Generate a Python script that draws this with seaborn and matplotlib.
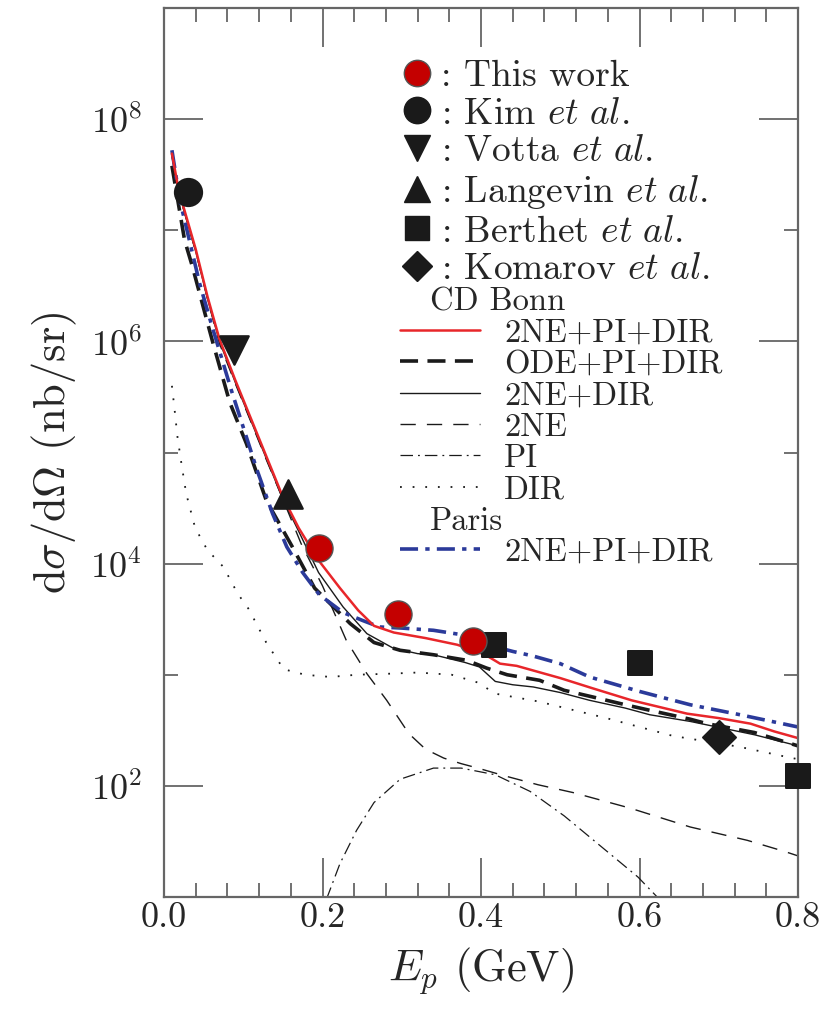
import numpy as np
import matplotlib
matplotlib.use("Agg")
import matplotlib.pyplot as plt
import seaborn as sns
from matplotlib.lines import Line2D
from matplotlib.ticker import FixedLocator, MultipleLocator, NullFormatter, LogFormatterSciNotation

# ---- data (log10 of dsigma/dOmega in nb/sr) ----
red_x = [0.01, 0.017, 0.025, 0.04, 0.055, 0.07, 0.09, 0.11, 0.13, 0.15, 0.17, 0.195, 0.222, 0.245,
         0.265, 0.29, 0.33, 0.37, 0.395, 0.41, 0.424, 0.445, 0.47, 0.50, 0.54, 0.59, 0.66, 0.70,
         0.74, 0.77, 0.80]
red_log = [7.69, 7.42, 7.20, 6.83, 6.40, 6.02, 5.65, 5.30, 4.95, 4.60, 4.32, 4.03, 3.78, 3.58,
           3.44, 3.38, 3.33, 3.27, 3.21, 3.16, 3.10, 3.08, 3.03, 2.97, 2.88, 2.77, 2.65, 2.61,
           2.56, 2.49, 2.43]

ode_x = [0.01, 0.026, 0.036, 0.054, 0.062, 0.083, 0.104, 0.129, 0.162, 0.19, 0.235, 0.265, 0.298,
         0.34, 0.382, 0.407, 0.433, 0.474, 0.505, 0.541, 0.582, 0.613, 0.664, 0.685, 0.745, 0.80]
ode_log = [7.58, 6.91, 6.67, 6.19, 5.98, 5.45, 5.08, 4.57, 4.15, 3.78, 3.46, 3.29, 3.22,
           3.18, 3.13, 3.06, 3.00, 2.95, 2.86, 2.80, 2.73, 2.68, 2.60, 2.56, 2.48, 2.36]

nedir_x = [0.01, 0.017, 0.025, 0.04, 0.055, 0.07, 0.09, 0.11, 0.13, 0.15, 0.17, 0.195, 0.226, 0.256,
           0.289, 0.32, 0.34, 0.38, 0.398, 0.418, 0.44, 0.466, 0.50, 0.537, 0.582, 0.613, 0.664,
           0.745, 0.80]
nedir_log = [7.68, 7.40, 7.18, 6.81, 6.38, 6.00, 5.63, 5.28, 4.93, 4.58, 4.29, 3.92, 3.61, 3.37,
             3.24, 3.19, 3.18, 3.11, 3.07, 2.94, 2.91, 2.89, 2.84, 2.77, 2.70, 2.64, 2.58,
             2.46, 2.36]

ne_x = [0.01, 0.017, 0.025, 0.04, 0.055, 0.07, 0.09, 0.11, 0.13, 0.15, 0.173, 0.20, 0.23, 0.256,
        0.281, 0.309, 0.33, 0.353, 0.375, 0.396, 0.43, 0.472, 0.516, 0.588, 0.664, 0.736, 0.783, 0.80]
ne_log = [7.67, 7.40, 7.18, 6.81, 6.38, 5.98, 5.62, 5.27, 4.92, 4.58, 4.18, 3.80, 3.31, 3.01,
          2.77, 2.47, 2.33, 2.25, 2.20, 2.16, 2.09, 2.01, 1.94, 1.80, 1.63, 1.51, 1.41, 1.37]

pi_x = [0.205, 0.222, 0.243, 0.265, 0.298, 0.34, 0.375, 0.418, 0.462, 0.505, 0.554, 0.598, 0.625]
pi_log = [0.98, 1.30, 1.60, 1.85, 2.06, 2.16, 2.16, 2.10, 1.95, 1.73, 1.44, 1.18, 0.98]

dir_x = [0.01, 0.013, 0.017, 0.022, 0.028, 0.039, 0.047, 0.055, 0.075, 0.093, 0.107, 0.129, 0.151,
         0.178, 0.21, 0.243, 0.287, 0.32, 0.363, 0.396, 0.418, 0.472, 0.558, 0.642, 0.727, 0.786, 0.80]
dir_log = [5.60, 5.41, 5.14, 4.90, 4.63, 4.33, 4.22, 4.12, 3.97, 3.73, 3.59, 3.29, 3.05,
           3.00, 2.98, 3.00, 3.01, 3.02, 3.00, 2.93, 2.83, 2.76, 2.61, 2.45, 2.35, 2.26, 2.24]

paris_x = [0.01, 0.02, 0.045, 0.06, 0.085, 0.117, 0.137, 0.155, 0.175, 0.196, 0.226, 0.25, 0.272,
           0.30, 0.34, 0.385, 0.424, 0.44, 0.465, 0.50, 0.537, 0.60, 0.664, 0.727, 0.80]
paris_log = [7.72, 7.27, 6.52, 6.15, 5.56, 4.85, 4.45, 4.15, 3.92, 3.72, 3.56, 3.49, 3.43,
             3.42, 3.40, 3.35, 3.24, 3.21, 3.17, 3.10, 2.98, 2.85, 2.73, 2.64, 2.53]

# experimental points
this_x = [0.195, 0.295, 0.39]
this_y = [1.38e4, 3.5e3, 2.0e3]
kim_x, kim_y = [0.030], [2.2e7]
votta_x, votta_y = [0.088], [8.3e5]
lang_x, lang_y = [0.156], [4.2e4]
berthet_x = [0.416, 0.601, 0.80]
berthet_y = [1.84e3, 1.27e3, 1.22e2]
komarov_x, komarov_y = [0.70], [2.74e2]

# ---- style ----
sns.set_theme(style="white")
plt.rcParams['font.family'] = ['cmr10', 'DejaVu Serif']
plt.rcParams['mathtext.fontset'] = 'cm'
plt.rcParams['axes.formatter.use_mathtext'] = True

RED = '#e8262a'
BLUE = '#2b3a9a'
BLK = '#1a1a1a'

st_red = dict(color=RED, lw=1.8, linestyle='-')
st_ode = dict(color=BLK, lw=2.6, linestyle=(0, (5.0, 2.6)))
st_nedir = dict(color=BLK, lw=1.0, linestyle='-')
st_ne = dict(color=BLK, lw=1.0, linestyle=(0, (11, 8)))
st_pi = dict(color=BLK, lw=0.9, linestyle=(0, (10, 4, 1.5, 4)))
st_dir = dict(color=BLK, lw=1.3, linestyle=(0, (1, 6)))
st_paris = dict(color=BLUE, lw=2.6, linestyle=(0, (5.0, 2.0, 1.2, 2.0)))

fig = plt.figure(figsize=(8.28, 10.27), dpi=100)
ax = fig.add_axes([164 / 828, 130 / 1027, 634 / 828, 889 / 1027])

curves = [(dir_x, dir_log, st_dir), (pi_x, pi_log, st_pi), (ne_x, ne_log, st_ne),
          (nedir_x, nedir_log, st_nedir), (ode_x, ode_log, st_ode),
          (paris_x, paris_log, st_paris), (red_x, red_log, st_red)]
for cx, cl, st in curves:
    sns.lineplot(x=cx, y=10.0 ** np.array(cl), ax=ax, estimator=None, sort=False, **st)

ms = 380
sns.scatterplot(x=kim_x, y=kim_y, ax=ax, marker='o', s=ms, color=BLK, edgecolor=BLK, zorder=6, clip_on=False)
sns.scatterplot(x=votta_x, y=votta_y, ax=ax, marker='v', s=ms * 1.1, color=BLK, edgecolor=BLK, zorder=6)
sns.scatterplot(x=lang_x, y=lang_y, ax=ax, marker='^', s=ms * 1.1, color=BLK, edgecolor=BLK, zorder=6)
sns.scatterplot(x=berthet_x, y=berthet_y, ax=ax, marker='s', s=ms * 0.85, color=BLK, edgecolor=BLK,
                zorder=6, clip_on=False)
sns.scatterplot(x=komarov_x, y=komarov_y, ax=ax, marker='D', s=ms * 0.75, color=BLK, edgecolor=BLK, zorder=6)
sns.scatterplot(x=this_x, y=this_y, ax=ax, marker='o', s=ms, color='#c40000', edgecolor='#555555',
                linewidth=1.0, zorder=7)

ax.set_yscale('log')
ax.set_xlim(0, 0.8)
ax.set_ylim(1e1, 1e9)

ax.xaxis.set_major_locator(MultipleLocator(0.2))
ax.xaxis.set_minor_locator(MultipleLocator(0.04))
ax.xaxis.set_major_formatter(plt.FormatStrFormatter('%.1f'))
ax.yaxis.set_major_locator(FixedLocator([1e2, 1e4, 1e6, 1e8]))
ax.yaxis.set_minor_locator(FixedLocator([1e1, 1e3, 1e5, 1e7, 1e9]))
ax.yaxis.set_major_formatter(LogFormatterSciNotation())
ax.yaxis.set_minor_formatter(NullFormatter())

ax.tick_params(which='both', direction='in', top=True, right=True, bottom=True, left=True,
               color='#666666', width=1.3)
ax.tick_params(which='major', length=28, labelsize=26)
ax.tick_params(which='minor', length=10)
ax.tick_params(axis='x', which='major', pad=4)
ax.tick_params(axis='y', which='major', pad=16)
for sp in ax.spines.values():
    sp.set_color('#666666')
    sp.set_linewidth(1.6)

ax.set_xlabel(r'$E_p$ (GeV)', fontsize=32, labelpad=8)
ax.set_ylabel(r'd$\sigma$/d$\Omega$ (nb/sr)', fontsize=32, labelpad=8)

# ---- legends ----
mk = dict(ls='none', ms=19)
h_marks = [Line2D([], [], marker='o', mfc='#c40000', mec='#555555', mew=1.0, **mk),
           Line2D([], [], marker='o', color=BLK, **mk),
           Line2D([], [], marker='v', color=BLK, **mk),
           Line2D([], [], marker='^', color=BLK, **mk),
           Line2D([], [], marker='s', color=BLK, ls='none', ms=17),
           Line2D([], [], marker='D', color=BLK, ls='none', ms=15)]
l_marks = [': This work', r': Kim $\mathit{et\ al.}$', r': Votta $\mathit{et\ al.}$',
           r': Langevin $\mathit{et\ al.}$', r': Berthet $\mathit{et\ al.}$',
           r': Komarov $\mathit{et\ al.}$']
leg1 = ax.legend(h_marks, l_marks, loc='upper left', bbox_to_anchor=(0.372, 0.942), frameon=False,
                 fontsize=27, handlelength=0.9, handletextpad=0.2, labelspacing=0.12,
                 borderpad=0, borderaxespad=0)
ax.add_artist(leg1)

blank = Line2D([], [], color='none')
h_lines = [blank, Line2D([], [], **st_red), Line2D([], [], **st_ode), Line2D([], [], **st_nedir),
           Line2D([], [], **st_ne), Line2D([], [], **st_pi), Line2D([], [], **st_dir),
           blank, Line2D([], [], **st_paris)]
l_lines = [' ', '2NE+PI+DIR', 'ODE+PI+DIR', '2NE+DIR', '2NE', 'PI', 'DIR', ' ', '2NE+PI+DIR']
leg2 = ax.legend(h_lines, l_lines, loc='upper left', bbox_to_anchor=(0.372, 0.686), frameon=False,
                 fontsize=23.5, handlelength=2.45, handletextpad=0.75, labelspacing=0.07,
                 borderpad=0, borderaxespad=0)

fig.canvas.draw()
inv = ax.transAxes.inverted()
for idx, name in [(0, 'CD Bonn'), (7, 'Paris')]:
    bb = leg2.get_texts()[idx].get_window_extent()
    yc = inv.transform(((bb.x0 + bb.x1) / 2, (bb.y0 + bb.y1) / 2))[1]
    ax.text(0.42, yc, name, transform=ax.transAxes, fontsize=23.5, va='center', ha='left')

fig.savefig('out.png', dpi=100)
